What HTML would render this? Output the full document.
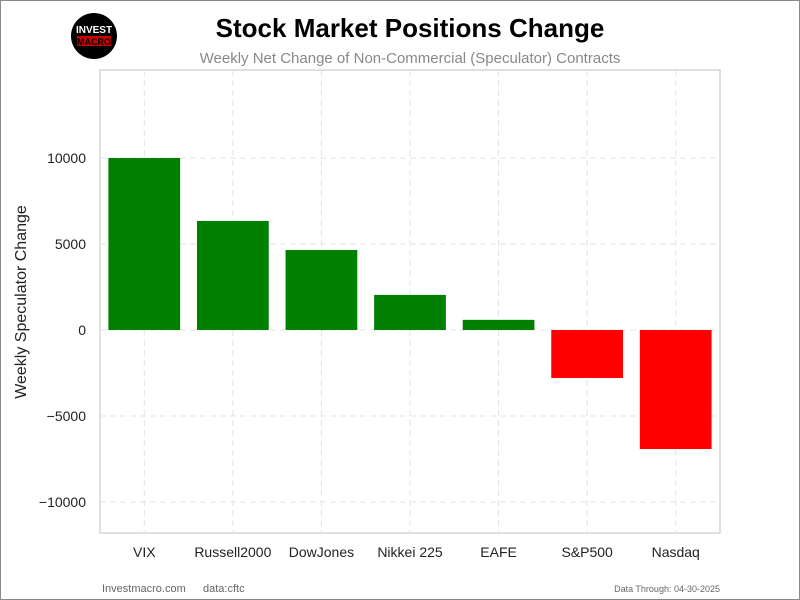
<!DOCTYPE html>
<html><head><meta charset="utf-8"><style>
body{margin:0;background:#fff;font-family:"Liberation Sans",sans-serif}
#wrap{position:relative;width:798px;height:598px;border:1px solid #888;overflow:hidden}
</style></head><body>
<div id="wrap">
<svg id="chart" width="798" height="598" viewBox="1 1 798 598">
<g>
<circle cx="94" cy="36" r="23" fill="#000"/>
<text x="94" y="33" text-anchor="middle" font-size="10" font-weight="bold" fill="#fff" font-family="Liberation Sans, sans-serif">INVEST</text>
<rect x="77" y="36" width="34" height="10" fill="#c00"/>
<text x="94" y="45" text-anchor="middle" font-size="9" font-weight="bold" fill="#000" font-family="Liberation Sans, sans-serif">MACRO</text>
</g>
<text x="410" y="37" text-anchor="middle" font-size="26" font-weight="bold" fill="#000">Stock Market Positions Change</text>
<text x="410" y="63" text-anchor="middle" font-size="15" fill="#888">Weekly Net Change of Non-Commercial (Speculator) Contracts</text>
<rect x="100" y="70" width="620" height="463" fill="none" stroke="#ccc" stroke-width="1.2"/>
<g id="grid"></g><g id="bars"></g><g id="yticks"></g><g id="xticks"></g>
<text transform="translate(26,302) rotate(-90)" text-anchor="middle" font-size="16" fill="#222">Weekly Speculator Change</text>
<text x="102" y="592" font-size="11" fill="#666">Investmacro.com</text>
<text x="203" y="592" font-size="11" fill="#666">data:cftc</text>
<text x="720" y="592" text-anchor="end" font-size="9" fill="#666">Data Through: 04-30-2025</text>
</svg></div>
<script>
const categories=["VIX","Russell2000","DowJones","Nikkei 225","EAFE","S&P500","Nasdaq"];
const values=[10000,6340,4650,2040,590,-2790,-6920];
const yTicks=[-10000,-5000,0,5000,10000];
const yTickLabels=["\u221210000","\u22125000","0","5000","10000"];
const NS="http://www.w3.org/2000/svg";
const L=100,R=720,T=70,B=533,yMin=-11802,yMax=15116;
const y=v=>T+(yMax-v)/(yMax-yMin)*(B-T);
const band=(R-L)/categories.length;
const x=i=>L+band*(i+0.5);
function mk(t,a,p){const e=document.createElementNS(NS,t);for(const k in a)e.setAttribute(k,a[k]);p.appendChild(e);return e;}
const g=document.getElementById('grid'),bg=document.getElementById('bars'),yt=document.getElementById('yticks'),xt=document.getElementById('xticks');
yTicks.forEach((v,i)=>{
 const l=mk('line',{x1:L,x2:R,y1:y(v),y2:y(v),stroke:'#e3e3e3','stroke-dasharray':'6,4'},g);
 
 
 const t=mk('text',{x:L-14,y:y(v)+5,'text-anchor':'end','font-size':14,fill:'#222'},yt);
 t.textContent=yTickLabels[i];
 
 
});
categories.forEach((c,i)=>{
 const l=mk('line',{x1:x(i),x2:x(i),y1:T,y2:B,stroke:'#e3e3e3','stroke-dasharray':'6,4'},g);
 
 
 const v=values[i],w=band*0.81;
 const r=mk('rect',{x:x(i)-w/2,y:Math.min(y(v),y(0)),width:w,height:Math.abs(y(v)-y(0)),fill:v>=0?'#008000':'#ff0000'},bg);
 
 
 const t=mk('text',{x:x(i),y:557,'text-anchor':'middle','font-size':14,fill:'#222'},xt);
 t.textContent=c;
 
 
});
</script>
</body></html>
